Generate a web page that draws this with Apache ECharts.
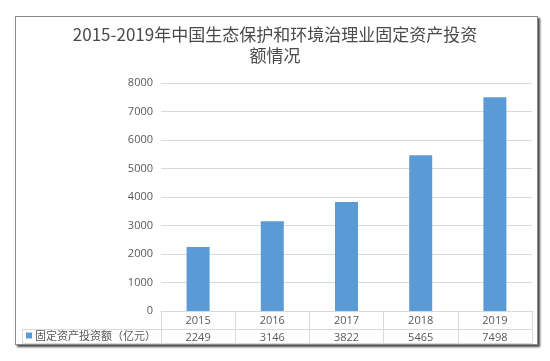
<!DOCTYPE html>
<html><head><meta charset="utf-8">
<script src="https://cdn.jsdelivr.net/npm/echarts@6/dist/echarts.min.js"></script>
<style>
html,body{margin:0;padding:0;background:#fff;}
#wrap{position:relative;width:550px;height:361px;}
#frame{position:absolute;left:15px;top:16px;width:521px;height:327px;border:1px solid #8a8a8a;box-shadow:2px 2px 2px rgba(40,40,40,0.85);background:#fff;}
#chart{position:absolute;left:0;top:0;width:550px;height:361px;}
</style></head>
<body><div id="wrap"><div id="frame"></div><div id="chart"></div></div>
<script>
var titleText = '2015-2019年中国生态保护和环境治理业固定资产投资\n额情况';
var categories = ['2015', '2016', '2017', '2018', '2019'];
var seriesName = '固定资产投资额（亿元）';
var values = [2249, 3146, 3822, 5465, 7498];
var yTicks = {min: 0, max: 8000, interval: 1000};

var gray = '#595959', lineC = '#d9d9d9';
var font = 'Open Sans, Noto Sans CJK SC, sans-serif';
var chart = echarts.init(document.getElementById('chart'), null, {renderer: 'canvas'});
chart.setOption({
  backgroundColor: 'transparent',
  animation: false,
  title: {text: titleText, left: 'center', top: 24, padding: 0,
    textStyle: {fontSize: 17, fontWeight: 'normal', color: '#4a4a4a', lineHeight: 21, fontFamily: 'Noto Sans CJK SC, sans-serif'}},
  legend: {data: [seriesName], left: 26, top: 330, padding: 0, icon: 'rect', itemWidth: 6, itemHeight: 6, itemGap: 4,
    textStyle: {fontSize: 11, color: gray, fontFamily: 'Noto Sans CJK SC, sans-serif', padding: [0,0,0,-2]}},
  grid: {left: 161, right: 18, top: 83, bottom: 50},
  xAxis: [
    {type: 'category', data: categories, position: 'bottom',
     axisLine: {show: true, lineStyle: {color: lineC}},
     axisTick: {show: true, length: 32, lineStyle: {color: lineC}},
     axisLabel: {margin: 4, fontSize: 11, color: gray, fontFamily: font}},
    {type: 'category', data: categories, position: 'bottom', offset: 18,
     axisLine: {show: true, lineStyle: {color: lineC}},
     axisTick: {show: false},
     axisLabel: {margin: 3, fontSize: 11, color: gray, fontFamily: font,
       formatter: function (v, i) { return String(values[i]); }}},
    {type: 'category', data: categories, position: 'bottom', offset: 32,
     axisLine: {show: true, lineStyle: {color: lineC}},
     axisTick: {show: false}, axisLabel: {show: false}}
  ],
  yAxis: {type: 'value', min: yTicks.min, max: yTicks.max, interval: yTicks.interval,
    axisLine: {show: false}, axisTick: {show: false},
    splitLine: {lineStyle: {color: lineC}},
    axisLabel: {margin: 8, fontSize: 11, color: gray, fontFamily: font,
      formatter: function (v) { return String(v); }}},
  graphic: [
    {type: 'rect', shape: {x: 22.5, y: 329.5, width: 139, height: 14}, style: {fill: 'none', stroke: lineC}}
  ],
  series: [{name: seriesName, type: 'bar', data: values, barWidth: 23, xAxisIndex: 0,
    itemStyle: {color: '#5b9bd5'}}]
});
</script></body></html>
